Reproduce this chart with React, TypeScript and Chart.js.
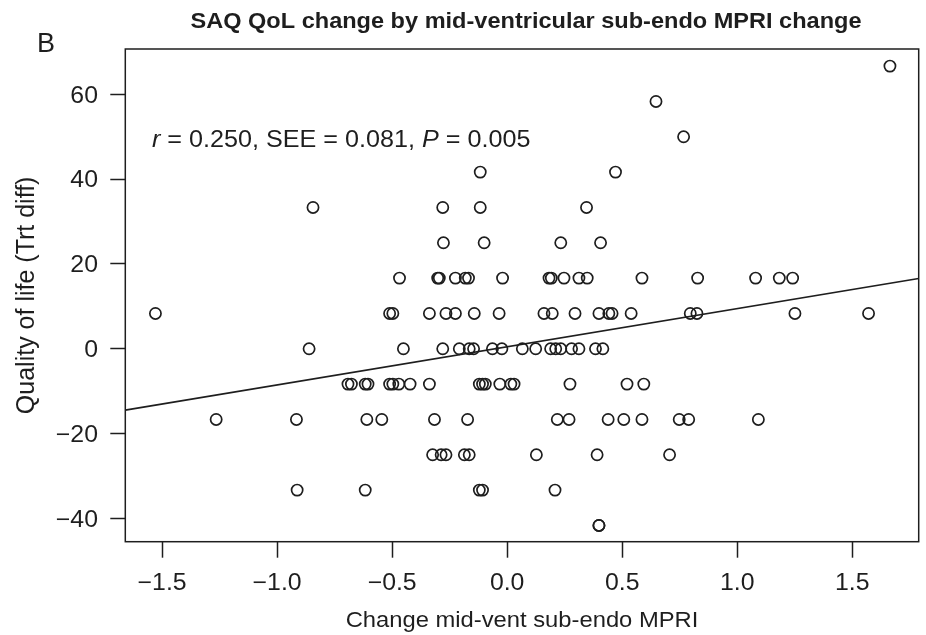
import React, { useEffect, useRef } from "react";
import { Chart, registerables } from "chart.js";

Chart.register(...registerables);

// Change in mid-ventricular sub-endocardial MPRI (x) and SAQ quality-of-life treatment difference (y)
const MPRI_CHANGE: number[] = [
  1.664,
  0.647,
  0.767,
  -0.117, 0.471,
  -0.844, -0.28, -0.117, 0.345,
  -0.277, -0.1, 0.233, 0.406,
  -0.468, -0.302, -0.295, -0.225, -0.182, -0.168, -0.02, 0.182, 0.192, 0.247, 0.312, 0.348, 0.586, 0.828, 1.08, 1.183, 1.241,
  -1.529, -0.511, -0.497, -0.338, -0.266, -0.225, -0.143, -0.035, 0.16, 0.196, 0.295, 0.399, 0.442, 0.456, 0.539, 0.796, 0.825, 1.251, 1.571,
  -0.861, -0.451, -0.28, -0.208, -0.165, -0.146, -0.064, -0.023, 0.066, 0.124, 0.189, 0.211, 0.233, 0.28, 0.312, 0.384, 0.416,
  -0.692, -0.677, -0.617, -0.605, -0.511, -0.497, -0.471, -0.422, -0.338, -0.121, -0.107, -0.095, -0.032, 0.016, 0.03, 0.273, 0.521, 0.594,
  -1.265, -0.916, -0.61, -0.545, -0.316, -0.172, 0.218, 0.269, 0.439, 0.507, 0.586, 0.748, 0.789, 1.092,
  -0.324, -0.287, -0.266, -0.186, -0.165, 0.127, 0.391, 0.706,
  -0.913, -0.617, -0.121, -0.107, 0.208,
  0.399, 0.399,
];

const QOL_DIFF: number[] = [
  66.67,
  58.33,
  50,
  41.67, 41.67,
  33.33, 33.33, 33.33, 33.33,
  25, 25, 25, 25,
  16.67, 16.67, 16.67, 16.67, 16.67, 16.67, 16.67, 16.67, 16.67, 16.67, 16.67, 16.67, 16.67, 16.67, 16.67, 16.67, 16.67,
  8.33, 8.33, 8.33, 8.33, 8.33, 8.33, 8.33, 8.33, 8.33, 8.33, 8.33, 8.33, 8.33, 8.33, 8.33, 8.33, 8.33, 8.33, 8.33,
  0, 0, 0, 0, 0, 0, 0, 0, 0, 0, 0, 0, 0, 0, 0, 0, 0,
  -8.33, -8.33, -8.33, -8.33, -8.33, -8.33, -8.33, -8.33, -8.33, -8.33, -8.33, -8.33, -8.33, -8.33, -8.33, -8.33, -8.33, -8.33,
  -16.67, -16.67, -16.67, -16.67, -16.67, -16.67, -16.67, -16.67, -16.67, -16.67, -16.67, -16.67, -16.67, -16.67,
  -25, -25, -25, -25, -25, -25, -25, -25,
  -33.33, -33.33, -33.33, -33.33, -33.33,
  -41.67, -41.67,
];

const X_TICKS: number[] = [-1.5, -1.0, -0.5, 0.0, 0.5, 1.0, 1.5];
const Y_TICKS: number[] = [-40, -20, 0, 20, 40, 60];

const LINE_INTERCEPT = 0.48;
const LINE_SLOPE = 9.0;

const X_MIN = -1.66;
const X_MAX = 1.789;
const Y_MIN = -45.5;
const Y_MAX = 70.7;

const TITLE = "SAQ QoL change by mid-ventricular sub-endo MPRI change";
const PANEL = "B";
const X_TITLE = "Change mid-vent sub-endo MPRI";
const Y_TITLE = "Quality of life (Trt diff)";
const STATS: [string, boolean][] = [
  ["r", true],
  [" = 0.250, SEE = 0.081, ", false],
  ["P", true],
  [" = 0.005", false],
];

const FONT = "'Liberation Sans', Arial, Helvetica, sans-serif";
const INK = "#1e1e1e";
const SX = 1.08; // slight horizontal widening of the reference's lettering

const fmtNum = (v: number, d: number) => {
  const s = Math.abs(v).toFixed(d);
  return v < 0 ? "\u2212" + s : s;
};

function drawText(ctx: CanvasRenderingContext2D, text: string, x: number, y: number, font: string, align: "left" | "center" | "right", sx: number) {
  ctx.save();
  ctx.font = font;
  const w = ctx.measureText(text).width * sx;
  const left = align === "center" ? x - w / 2 : align === "right" ? x - w : x;
  ctx.translate(left, y);
  ctx.scale(sx, 1);
  ctx.textAlign = "left";
  ctx.textBaseline = "alphabetic";
  ctx.fillText(text, 0, 0);
  ctx.restore();
  return w;
}

const decorPlugin = {
  id: "decor",
  afterDraw(chart: any) {
    const { ctx, chartArea, scales } = chart;
    ctx.save();
    // plot box
    ctx.strokeStyle = INK;
    ctx.lineWidth = 1.5;
    ctx.strokeRect(chartArea.left, chartArea.top, chartArea.right - chartArea.left, chartArea.bottom - chartArea.top);
    ctx.fillStyle = INK;

    // panel letter
    drawText(ctx, PANEL, 37, 52, `27px ${FONT}`, "left", 1);

    // title
    drawText(ctx, TITLE, 526, 28, `bold 21.8px ${FONT}`, "center", SX);

    // stats annotation
    let x = 152;
    for (const [t, it] of STATS) {
      x += drawText(ctx, t, x, 147, `${it ? "italic " : ""}23.3px ${FONT}`, "left", SX);
    }

    // x tick labels
    const tickSize = 23;
    for (const t of scales.x.ticks) {
      const px = scales.x.getPixelForValue(t.value);
      drawText(ctx, fmtNum(t.value, 1), px, 590, `${tickSize}px ${FONT}`, "center", SX);
    }
    // y tick labels
    const cap = 0.716 * tickSize;
    for (const t of scales.y.ticks) {
      const py = scales.y.getPixelForValue(t.value);
      drawText(ctx, fmtNum(t.value, 0), 98, py + cap / 2, `${tickSize}px ${FONT}`, "right", SX);
    }

    // x axis title
    const cx = (chartArea.left + chartArea.right) / 2;
    drawText(ctx, X_TITLE, cx, 627, `22px ${FONT}`, "center", SX);

    // y axis title (rotated)
    const cy = (chartArea.top + chartArea.bottom) / 2;
    ctx.save();
    ctx.translate(34, cy);
    ctx.rotate(-Math.PI / 2);
    drawText(ctx, Y_TITLE, 0, 0, `25px ${FONT}`, "center", 1);
    ctx.restore();

    ctx.restore();
  },
};

export default function App() {
  const ref = useRef<HTMLCanvasElement | null>(null);

  useEffect(() => {
    document.body.style.margin = "0";
    const canvas = ref.current;
    if (!canvas) return;
    const points = MPRI_CHANGE.map((x, i) => ({ x, y: QOL_DIFF[i] }));
    const fit = [
      { x: X_MIN, y: LINE_INTERCEPT + LINE_SLOPE * X_MIN },
      { x: X_MAX, y: LINE_INTERCEPT + LINE_SLOPE * X_MAX },
    ];
    const chart = new Chart(canvas, {
      type: "scatter",
      data: {
        datasets: [
          {
            type: "line",
            data: fit,
            borderColor: INK,
            borderWidth: 1.6,
            pointRadius: 0,
            fill: false,
          } as any,
          {
            data: points,
            pointStyle: "circle",
            pointRadius: 5.6,
            pointBorderWidth: 1.7,
            borderColor: INK,
            backgroundColor: "rgba(0,0,0,0)",
          },
        ],
      },
      options: {
        animation: false,
        responsive: false,
        maintainAspectRatio: false,
        layout: { padding: { top: 49, right: 6, left: 0, bottom: 0 } },
        plugins: {
          legend: { display: false },
          tooltip: { enabled: false },
          title: { display: false },
        },
        scales: {
          x: {
            type: "linear",
            min: X_MIN,
            max: X_MAX,
            afterBuildTicks: (s: any) => {
              s.ticks = X_TICKS.map((v) => ({ value: v }));
            },
            afterFit: (s: any) => {
              s.height = 635 - 541.7;
            },
            ticks: { display: false, autoSkip: false },
            grid: {
              display: true,
              drawOnChartArea: false,
              drawTicks: true,
              tickLength: 16,
              tickColor: INK,
              tickWidth: 1.5,
            },
            border: { display: false },
            title: { display: false },
          },
          y: {
            type: "linear",
            min: Y_MIN,
            max: Y_MAX,
            afterBuildTicks: (s: any) => {
              s.ticks = Y_TICKS.map((v) => ({ value: v }));
            },
            afterFit: (s: any) => {
              s.width = 125.3;
            },
            ticks: { display: false, autoSkip: false },
            grid: {
              display: true,
              drawOnChartArea: false,
              drawTicks: true,
              tickLength: 15,
              tickColor: INK,
              tickWidth: 1.5,
            },
            border: { display: false },
            title: { display: false },
          },
        },
      },
      plugins: [decorPlugin],
    } as any);
    return () => chart.destroy();
  }, []);

  return (
    <div style={{ width: 926, height: 635 }}>
      <canvas ref={ref} width={926} height={635} style={{ display: "block", width: 926, height: 635 }} />
    </div>
  );
}
